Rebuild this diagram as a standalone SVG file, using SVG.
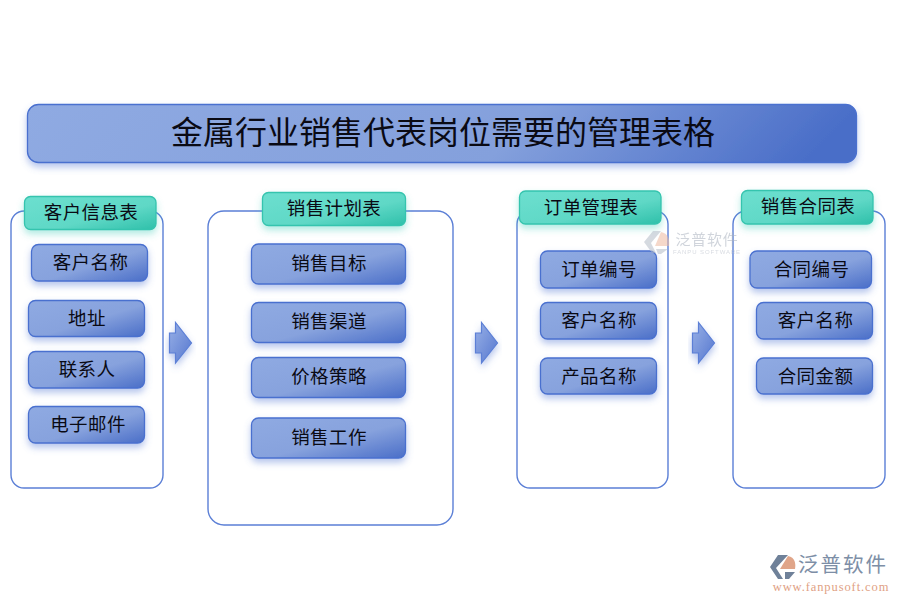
<svg xmlns="http://www.w3.org/2000/svg" width="900" height="600" viewBox="0 0 900 600">
<style>
text{font-family:"Liberation Serif","Noto Sans CJK SC",serif;fill:#0a0a14;text-anchor:middle;dominant-baseline:central}
.box{fill:none;stroke:#5b7fd6;stroke-width:1.4}
.blue{fill:url(#gb);stroke:#4a70cf;stroke-width:1.3;filter:url(#sb)}
.teal{fill:url(#gt);stroke:#35c4ae;stroke-width:1.3;filter:url(#st)}
.arrow{fill:url(#ga);stroke:#5b7fd6;stroke-width:1.2;filter:url(#sb)}
.t{font-size:18.500px;letter-spacing:.4px;transform:translateY(.8px)}
.h{font-size:18.500px;letter-spacing:.4px;transform:translateY(.8px)}
.wm{font-family:"Noto Sans CJK SC","Liberation Sans",sans-serif}
</style>
<defs>
<linearGradient id="gb" x1="0" y1="0" x2="1" y2="1"><stop offset="0" stop-color="#8faae2"/><stop offset=".55" stop-color="#87a2dd"/><stop offset="1" stop-color="#4a6ec8"/></linearGradient>
<linearGradient id="gtitle" x1="0" y1="0" x2="1" y2="0.07"><stop offset="0" stop-color="#8faae2"/><stop offset=".62" stop-color="#84a0dc"/><stop offset="1" stop-color="#4a6ec8"/></linearGradient>
<linearGradient id="gt" x1="0" y1="0" x2="1" y2="1"><stop offset="0" stop-color="#6cdfcf"/><stop offset=".6" stop-color="#5fd8c6"/><stop offset="1" stop-color="#2fc0aa"/></linearGradient>
<linearGradient id="ga" x1="0" y1="0" x2="1" y2="1"><stop offset="0" stop-color="#98b0e6"/><stop offset="1" stop-color="#5577cf"/></linearGradient>
<filter id="sb" x="-20%" y="-30%" width="140%" height="170%"><feDropShadow dx="0" dy="4" stdDeviation="3.5" flood-color="#5b7fd6" flood-opacity=".45"/></filter>
<filter id="st" x="-20%" y="-30%" width="140%" height="170%"><feDropShadow dx="0" dy="4" stdDeviation="3.5" flood-color="#40cdb8" flood-opacity=".4"/></filter>
</defs>
<rect width="900" height="600" fill="#fff"/>
<g id="title">
<rect x="27.500" y="104.500" width="829" height="58" rx="11" fill="url(#gtitle)" stroke="#4a70cf" stroke-width="1.300" filter="url(#sb)"/>
<text x="443" y="133" font-size="32">金属行业销售代表岗位需要的管理表格</text>
</g>
<g id="connectors">
<path class="arrow" d="M169.500 333H175.500V322.500L191.500 343L175.500 363V353H169.500Z"/>
<path class="arrow" d="M475.500 333H481.500V322.500L497.500 343L481.500 363V353H475.500Z"/>
<path class="arrow" d="M692.500 333H698.500V322.500L714.500 343L698.500 363V353H692.500Z"/>
</g>
<g id="panel-customer">
<rect class="box" x="11" y="211" width="152" height="277" rx="13"/>
<rect class="teal" x="24.500" y="196.500" width="131.500" height="33" rx="6"/>
<text class="h" x="91" y="212.500">客户信息表</text>
</g>
<g id="customer-name"><rect class="blue" x="31.500" y="244.500" width="116" height="36.500" rx="7"/><text class="t" x="90.500" y="262.500">客户名称</text></g>
<g id="customer-address"><rect class="blue" x="28.500" y="300.500" width="116" height="36" rx="7"/><text class="t" x="87" y="318">地址</text></g>
<g id="customer-contact"><rect class="blue" x="28.500" y="351.500" width="116" height="36.500" rx="7"/><text class="t" x="87" y="369">联系人</text></g>
<g id="customer-email"><rect class="blue" x="28.500" y="406.500" width="116" height="36.500" rx="7"/><text class="t" x="88" y="424">电子邮件</text></g>
<g id="panel-plan">
<rect class="box" x="208" y="211" width="245" height="314" rx="16"/>
<rect class="teal" x="262.500" y="192.500" width="143" height="33" rx="6"/>
<text class="h" x="334" y="208.500">销售计划表</text>
</g>
<g id="plan-target"><rect class="blue" x="251.500" y="244" width="154" height="40" rx="7"/><text class="t" x="329" y="263">销售目标</text></g>
<g id="plan-channel"><rect class="blue" x="251.500" y="302.500" width="154" height="40" rx="7"/><text class="t" x="329" y="321">销售渠道</text></g>
<g id="plan-price"><rect class="blue" x="251.500" y="357.500" width="154" height="40" rx="7"/><text class="t" x="329" y="376">价格策略</text></g>
<g id="plan-work"><rect class="blue" x="251.500" y="418" width="154" height="40" rx="7"/><text class="t" x="329" y="437">销售工作</text></g>
<g id="panel-order">
<rect class="box" x="517" y="211" width="151" height="277" rx="13"/>
<rect class="teal" x="519.500" y="191" width="141.500" height="33" rx="6"/>
<text class="h" x="591" y="207">订单管理表</text>
</g>
<g id="order-id"><rect class="blue" x="540.500" y="251" width="116" height="37" rx="7"/><text class="t" x="599" y="269">订单编号</text></g>
<g id="order-customer"><rect class="blue" x="540.500" y="302.500" width="116" height="36.500" rx="7"/><text class="t" x="599" y="320">客户名称</text></g>
<g id="order-product"><rect class="blue" x="540.500" y="358" width="116" height="36" rx="7"/><text class="t" x="599" y="376">产品名称</text></g>
<g id="panel-contract">
<rect class="box" x="733" y="211" width="152" height="277" rx="13"/>
<rect class="teal" x="741.500" y="190.500" width="131.500" height="33.500" rx="6"/>
<text class="h" x="808" y="206.500">销售合同表</text>
</g>
<g id="contract-id"><rect class="blue" x="750" y="251" width="121.500" height="37" rx="7"/><text class="t" x="811.500" y="269">合同编号</text></g>
<g id="contract-customer"><rect class="blue" x="756.500" y="302.500" width="116" height="36.500" rx="7"/><text class="t" x="815.500" y="320">客户名称</text></g>
<g id="contract-amount"><rect class="blue" x="756.500" y="358" width="116" height="36" rx="7"/><text class="t" x="815.500" y="376">合同金额</text></g>
<g id="watermark" opacity=".55">
<path d="M653 231H661L651 243L656 253L652 253L644 242Z" fill="#b4bcc8"/>
<path d="M661 232C668 233 670 240 669 246L655 246Z" fill="#eeb9a0"/>
<path d="M656 249H668L661 254H658Z" fill="#b4bcc8"/>
<text class="wm" x="707" y="238" font-size="15" style="fill:#aab2bf;letter-spacing:.8px">泛普软件</text>
<text x="707" y="252" font-size="6" style="font-family:'Liberation Sans',sans-serif;fill:#b8bec9;letter-spacing:.9px">FANPU SOFTWARE</text>
</g>
<g id="logo">
<path d="M778 555H788L776 568L783 579H778L770 567Z" fill="#6f8199"/>
<path d="M788 556C795 557 796 564 795 569L780 569Z" fill="#e0a589"/>
<path d="M785 572H795L789 579H785Z" fill="#6f8199"/>
<text class="wm" x="843" y="563" font-size="20.500" style="fill:#7d8ea6;letter-spacing:2px">泛普软件</text>
<text x="831" y="587" font-size="12.500" style="fill:#dfa184;letter-spacing:.9px">www.fanpusoft.com</text>
</g>
</svg>
